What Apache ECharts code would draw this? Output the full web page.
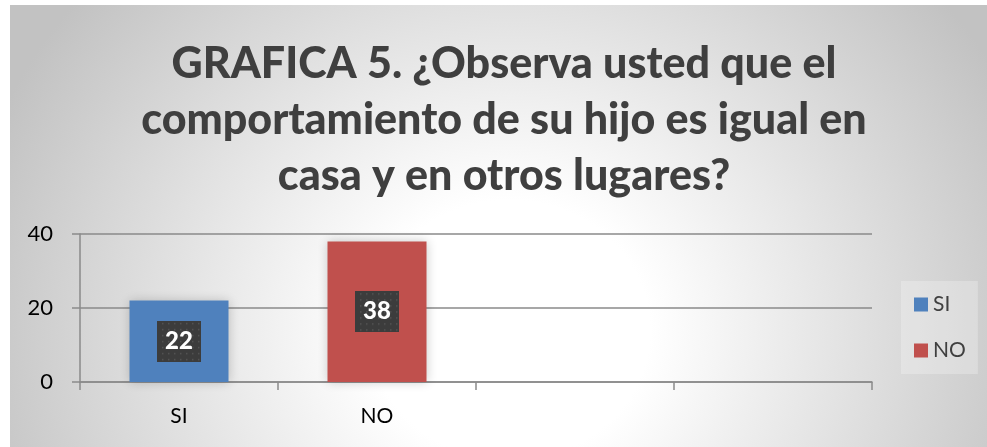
<!DOCTYPE html>
<html>
<head>
<meta charset="utf-8">
<script src="https://cdn.jsdelivr.net/npm/echarts@6/dist/echarts.min.js"></script>
<style>
  html, body { margin: 0; padding: 0; background: #ffffff; }
  #bg { position: absolute; left: 10px; top: 5px; width: 977px; height: 442px;
        background: radial-gradient(560px 520px at 500px 325px, #ffffff 0%, #ffffff 25%, #c2c2c2 100%); }
  #chart { position: absolute; left: 0; top: 0; width: 987px; height: 447px; }
</style>
</head>
<body>
<div id="bg"></div>
<div id="chart"></div>
<script>
const titleText = 'GRAFICA 5. ¿Observa usted que el\ncomportamiento de su hijo es igual en\ncasa y en otros lugares?';
const categories = ['SI', 'NO', '', ''];
const seriesNames = ['SI', 'NO'];
const siValues = [22, '-', '-', '-'];
const noValues = ['-', 38, '-', '-'];
const yTicks = [0, 20, 40];
const colors = ['#4F81BD', '#C0504D'];

// dotted dark label background
const pat = document.createElement('canvas');
pat.width = 44; pat.height = 41;
const ctx = pat.getContext('2d');
ctx.fillStyle = '#3c3c3c';
ctx.fillRect(0, 0, 44, 41);
ctx.fillStyle = '#555555';
for (let y = 2; y < 41; y += 6) {
  for (let x = ((y / 6) % 2 ? 5 : 2); x < 44; x += 6) {
    ctx.fillRect(x, y, 1.5, 1.5);
  }
}

const labelStyle = {
  show: true,
  position: 'inside',
  formatter: '{c}',
  color: '#ffffff',
  fontFamily: 'Lato',
  fontWeight: 900,
  fontSize: 24,
  width: 44,
  height: 41,
  lineHeight: 41,
  align: 'center',
  verticalAlign: 'middle',
  padding: 0,
  backgroundColor: { image: pat },
  shadowBlur: 6,
  shadowOffsetX: 3,
  shadowOffsetY: 3,
  shadowColor: 'rgba(0,0,0,0.5)'
};

const chart = echarts.init(document.getElementById('chart'), null, { renderer: 'canvas' });
chart.setOption({
  backgroundColor: 'transparent',
  animation: false,
  title: {
    text: titleText,
    left: 499,
    textAlign: 'center',
    top: 31,
    textStyle: {
      fontFamily: 'Lato',
      fontWeight: 900,
      fontSize: 43,
      lineHeight: 56,
      color: '#3f3f3f'
    }
  },
  legend: {
    data: seriesNames,
    orient: 'vertical',
    left: 901,
    top: 281,
    icon: 'rect',
    itemWidth: 14,
    itemHeight: 14,
    itemGap: 25,
    itemTextGap: 4,
    padding: [13, 12, 13, 13],
    backgroundColor: 'rgba(255,255,255,0.25)',
    textStyle: { fontFamily: 'Lato', fontSize: 21, color: '#404040' }
  },
  grid: { left: 80, right: 115, top: 234, bottom: 65, containLabel: false },
  xAxis: {
    type: 'category',
    data: categories,
    boundaryGap: true,
    axisLine: { show: true, lineStyle: { color: '#8a8a8a', width: 1.5 } },
    axisTick: { show: true, alignWithLabel: false, length: 8, lineStyle: { color: '#8a8a8a', width: 1.5 } },
    axisLabel: { margin: 24, fontFamily: 'Lato', fontSize: 21, color: '#000000' },
    splitLine: { show: false }
  },
  yAxis: {
    type: 'value',
    min: yTicks[0],
    max: yTicks[yTicks.length - 1],
    interval: yTicks[1] - yTicks[0],
    axisLine: { show: true, lineStyle: { color: '#8a8a8a', width: 1.5 } },
    axisTick: { show: true, length: 8, lineStyle: { color: '#8a8a8a', width: 1.5 } },
    axisLabel: { margin: 27, fontFamily: 'Lato', fontSize: 22, color: '#000000' },
    splitLine: { show: true, lineStyle: { color: '#8a8a8a', width: 1.5 } }
  },
  series: [
    {
      name: seriesNames[0],
      type: 'bar',
      data: siValues,
      barWidth: '50%',
      barGap: '-100%',
      itemStyle: { color: colors[0], shadowBlur: 10, shadowColor: 'rgba(0,0,0,0.2)' },
      label: labelStyle
    },
    {
      name: seriesNames[1],
      type: 'bar',
      data: noValues,
      barWidth: '50%',
      barGap: '-100%',
      itemStyle: { color: colors[1], shadowBlur: 10, shadowColor: 'rgba(0,0,0,0.2)' },
      label: labelStyle
    }
  ]
});
</script>
</body>
</html>
